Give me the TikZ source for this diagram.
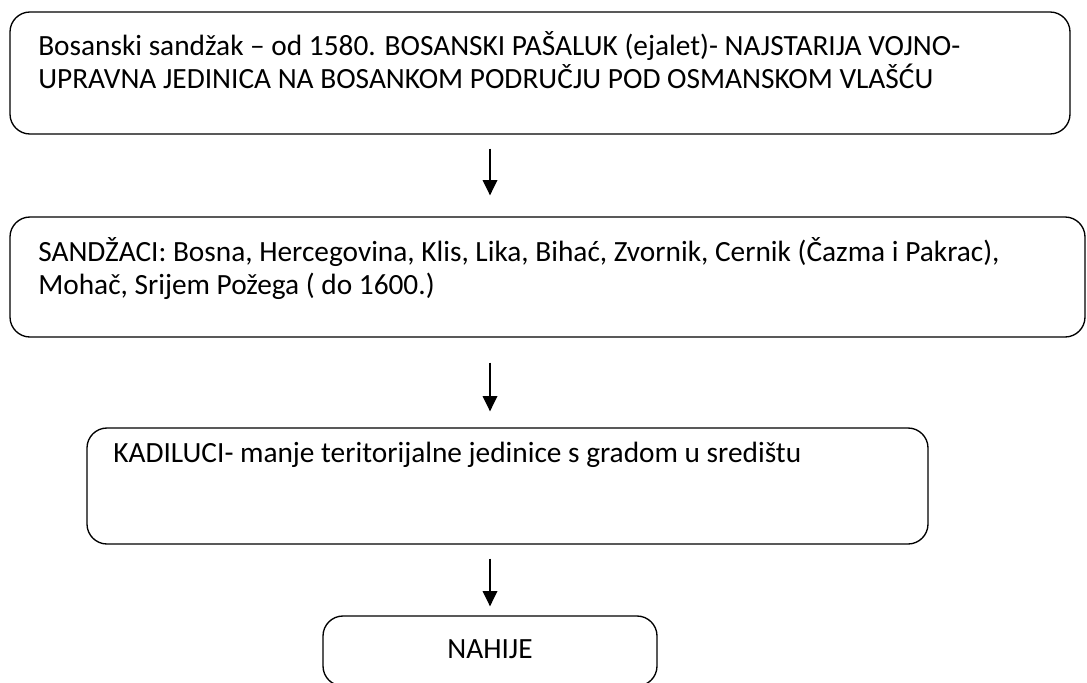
\documentclass[tikz,border=0pt]{standalone}
\usepackage{fontspec}
\setmainfont{Carlito}
\usetikzlibrary{arrows.meta}

\begin{document}
\begin{tikzpicture}[x=0.75pt,y=0.75pt,yscale=-1,xscale=1,
  box/.style={draw,line width=1pt,rounded corners=15pt,inner sep=0pt},
  txt/.style={anchor=base west,inner sep=0pt,align=left,font=\fontsize{22}{24.5}\selectfont},
  arr/.style={line width=1pt,-{Triangle[width=11pt,length=11.5pt]}}]
\useasboundingbox (0,0) rectangle (1087,682);
\clip (0,0) rectangle (1087,682);

%Shape: Rounded Rect [id:b1]
\node [box,minimum width=795pt,minimum height=91.5pt] (b1) at (540,73) {};
%Shape: Rounded Rect [id:b2]
\node [box,minimum width=806.25pt,minimum height=90pt] (b2) at (547.5,277) {};
%Shape: Rounded Rect [id:b3]
\node [box,minimum width=630.75pt,minimum height=87pt] (b3) at (507.5,486) {};
%Shape: Rounded Rect [id:b4]
\node [box,minimum width=250.5pt,minimum height=52.5pt] (b4) at (490,651) {};

% Text Node
\node [txt] (t1) at (38,88) {Bosanski sandžak – od 1580. BOSANSKI PAŠALUK (ejalet)- NAJSTARIJA VOJNO-\\UPRAVNA JEDINICA NA BOSANKOM PODRUČJU POD OSMANSKOM VLAŠĆU};
% Text Node
\node [txt] (t2) at (38,294) {SANDŽACI: Bosna, Hercegovina, Klis, Lika, Bihać, Zvornik, Cernik (Čazma i Pakrac),\\Mohač, Srijem Požega ( do 1600.)};
% Text Node
\node [txt] (t3) at (113,462) {KADILUCI- manje teritorijalne jedinice s gradom u središtu};
% Text Node
\node [txt,anchor=base] (t4) at (490,658) {NAHIJE};

%Straight Lines
\draw [arr,shorten <=10.5pt,shorten >=15.75pt] (b1.south -| b4.center) -- (b2.north -| b4.center);
\draw [arr,shorten <=18.75pt,shorten >=12pt] (b2.south -| b4.center) -- (b3.north -| b4.center);
\draw [arr,shorten <=10.5pt,shorten >=6.75pt] (b3.south -| b4.center) -- (b4.north);

\end{tikzpicture}
\end{document}
